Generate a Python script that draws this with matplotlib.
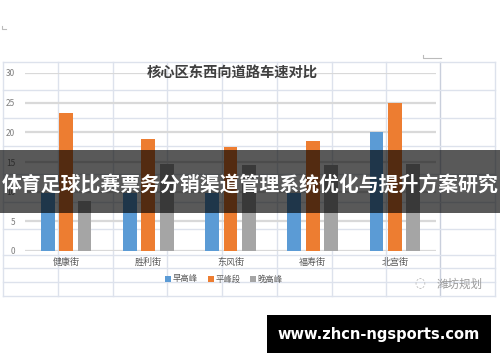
import matplotlib
matplotlib.use("Agg")
import matplotlib.pyplot as plt
import numpy as np
from matplotlib.patches import Rectangle

plt.rcParams['font.family'] = ['Noto Sans CJK SC', 'DejaVu Sans']

# ---- data ----
categories = ['健康街', '胜利街', '东风街', '福寿街', '北宫街']
series_names = ['早高峰', '平峰段', '晚高峰']
morning = [9.8, 9.8, 9.8, 9.8, 20.1]
offpeak = [23.3, 18.9, 17.5, 18.5, 24.9]
evening = [8.5, 14.7, 14.5, 14.5, 14.6]
yticks = [0, 5, 10, 15, 20, 25, 30]
title = '核心区东西向道路车速对比'
banner_text = '体育足球比赛票务分销渠道管理系统优化与提升方案研究'
site_text = 'www.zhcn-ngsports.com'
watermark = '潍坊规划'

colors = ['#5b9bd5', '#ed7d31', '#a5a5a5']

W, H = 500, 362
fig = plt.figure(figsize=(W / 100, H / 100), dpi=100)
fig.patch.set_facecolor('white')

# ---- background spreadsheet grid (pixel coords) ----
bg = fig.add_axes([0, 0, 1, 1], zorder=0)
bg.set_xlim(0, W)
bg.set_ylim(H, 0)
bg.axis('off')
grid_col = '#dde2ec'
vlines = [3, 58, 113, 167, 222, 277, 332, 386, 440, 495]
hlines = [62, 90, 118, 146, 174, 202, 229, 255, 268, 282, 296]
for x in vlines:
    bg.plot([x, x], [62, 296], color='#c9cfdc' if x == 440 else grid_col, lw=1.0)
for y in hlines:
    bg.plot([3, 495], [y, y], color=grid_col, lw=1.0)
# small corner marks
bg.plot([2, 2, 6], [26, 29, 29], color='#bbbbbb', lw=0.8)
bg.plot([423, 423, 441], [55, 58, 58], color='#bbbbbb', lw=0.8)

# ---- chart ----
ax = fig.add_axes([25 / W, (H - 251) / H, 411 / W, 178 / H], zorder=1)
ax.patch.set_alpha(0)
x = np.arange(len(categories))
bw = 0.17
off = 0.224
for i, (vals, name) in enumerate(zip([morning, offpeak, evening], series_names)):
    ax.bar(x + (i - 1) * off, vals, width=bw, color=colors[i], label=name, zorder=3)
ax.set_xlim(-0.5, len(categories) - 0.5)
ax.set_ylim(0, 30)
ax.set_yticks(yticks)
ax.yaxis.grid(True, color='#d9d9d9', lw=1.6, zorder=0)
ax.set_axisbelow(True)
for s in ax.spines.values():
    s.set_visible(False)
ax.set_xticks(x)
ax.set_xticklabels(categories, fontsize=6.5, color='#595959')
ax.tick_params(axis='x', length=0, pad=5)
ax.tick_params(axis='y', length=0, pad=7, labelsize=6, labelcolor='#7f7f7f')

fig.text(232 / W, 1 - 74 / H, title, ha='center', va='center', fontsize=10.3,
         fontweight='bold', color='#404040')

leg = ax.legend(loc='center', bbox_to_anchor=(224 / W, 1 - 279 / H),
                bbox_transform=fig.transFigure, ncol=3, frameon=False,
                fontsize=6, handlelength=0.7, handleheight=0.7, handletextpad=0.2,
                columnspacing=1.2, borderpad=0)
for t in leg.get_texts():
    t.set_color('#595959')

# watermark
fig.text(420 / W, 1 - 284 / H, '\u25cc', ha='center', va='center', fontsize=9,
         color='#b0b0b0', family=['DejaVu Sans'])
fig.text(460 / W, 1 - 284 / H, watermark, ha='center', va='center', fontsize=8.3,
         color='#9a9a9a')

# ---- overlays ----
ov = fig.add_axes([0, 0, 1, 1], zorder=5)
ov.set_xlim(0, W)
ov.set_ylim(H, 0)
ov.axis('off')
ov.patch.set_alpha(0)
ov.add_patch(Rectangle((0, 150), W, 63, facecolor='black', alpha=0.65, lw=0))
ov.text(W / 2, 184, banner_text, ha='center', va='center', fontsize=14.3,
        fontweight='bold', color='white')
ov.add_patch(Rectangle((267, 315), 224, 38, facecolor='black', lw=0))
ov.text(379, 334, site_text, ha='center', va='center', fontsize=10.5,
        fontweight='bold', color='white', family=['DejaVu Sans'])

fig.savefig('out.png', dpi=100)
